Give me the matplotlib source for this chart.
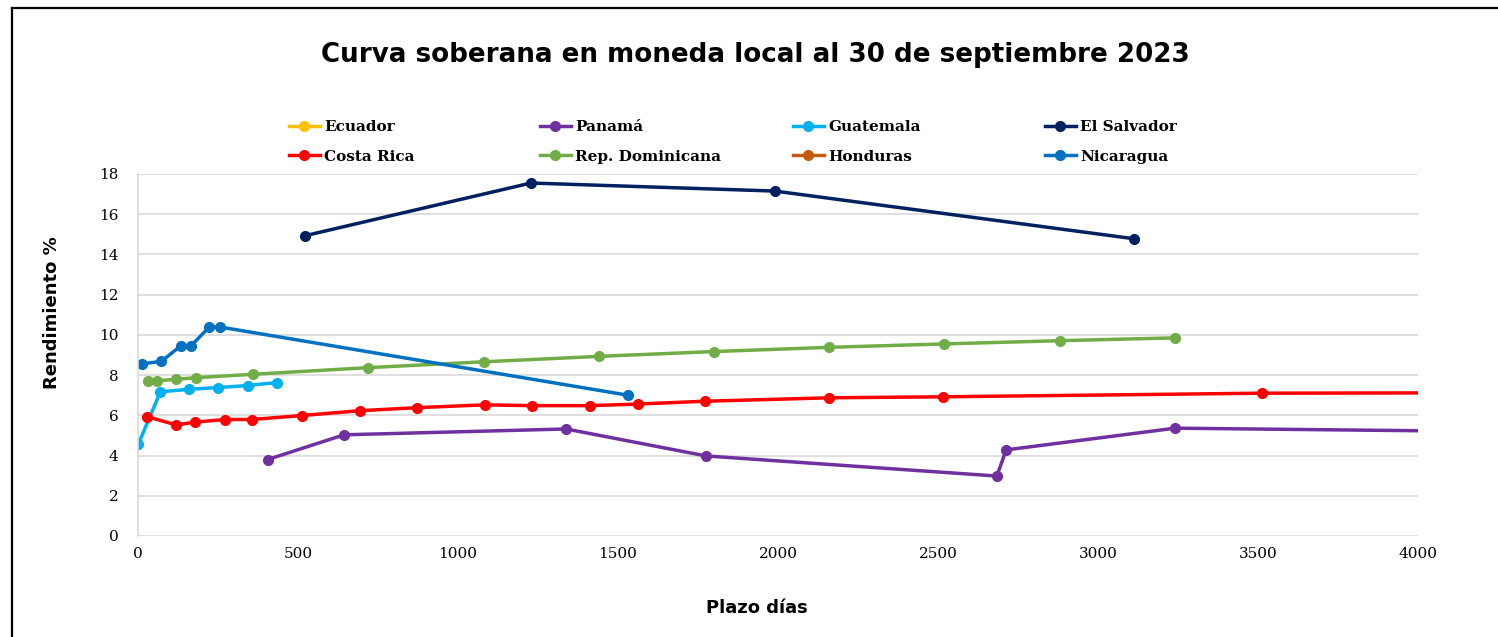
import matplotlib
matplotlib.use("Agg")
import matplotlib.pyplot as plt
from matplotlib.lines import Line2D

# data (plazo in days, rendimiento in %)
ecuador_x = []
ecuador_y = []

panama_x = [405, 644, 1338, 1775, 2684, 2713, 3241, 5400]
panama_y = [3.80, 5.03, 5.32, 3.98, 2.98, 4.28, 5.36, 5.00]

guatemala_x = [1, 70, 158, 250, 343, 434]
guatemala_y = [4.56, 7.17, 7.29, 7.38, 7.48, 7.63]

salvador_x = [522, 1228, 1990, 3112]
salvador_y = [14.93, 17.55, 17.15, 14.78]

costarica_x = [29, 120, 177, 271, 355, 513, 695, 872, 1084, 1231, 1413, 1563, 1772, 2159, 2516, 3513, 5400]
costarica_y = [5.93, 5.52, 5.66, 5.79, 5.79, 5.99, 6.23, 6.38, 6.52, 6.48, 6.48, 6.56, 6.70, 6.87, 6.92, 7.10, 7.15]

dominicana_x = [30, 60, 120, 180, 360, 720, 1080, 1440, 1800, 2160, 2520, 2880, 3240]
dominicana_y = [7.70, 7.72, 7.79, 7.87, 8.04, 8.37, 8.66, 8.93, 9.17, 9.38, 9.55, 9.71, 9.85]

honduras_x = []
honduras_y = []

nicaragua_x = [13, 73, 134, 166, 223, 256, 1531]
nicaragua_y = [8.56, 8.68, 9.46, 9.46, 10.39, 10.39, 7.00]

fig = plt.figure(figsize=(14.98, 6.37), dpi=100)
ax = fig.add_axes([0.0921, 0.1586, 0.8545, 0.5683])

series = [
    ("Ecuador", ecuador_x, ecuador_y, "#FFC000"),
    ("Panamá", panama_x, panama_y, "#7030A0"),
    ("Guatemala", guatemala_x, guatemala_y, "#00B0F0"),
    ("El Salvador", salvador_x, salvador_y, "#002060"),
    ("Costa Rica", costarica_x, costarica_y, "#FF0000"),
    ("Rep. Dominicana", dominicana_x, dominicana_y, "#70AD47"),
    ("Honduras", honduras_x, honduras_y, "#C55A11"),
    ("Nicaragua", nicaragua_x, nicaragua_y, "#0070C0"),
]

handles = {}
for name, xs, ys, col in series:
    ln, = ax.plot(xs, ys, color=col, lw=2.5, marker="o", ms=7, label=name)
    handles[name] = ln

ax.set_xlim(0, 4000)
ax.set_ylim(0, 18)
ax.set_xticks(range(0, 4001, 500))
ax.set_yticks(range(0, 19, 2))
ax.grid(axis="y", color="#D9D9D9", lw=1.2)
ax.set_axisbelow(True)
for s in ["top", "right", "bottom"]:
    ax.spines[s].set_visible(False)
ax.spines["left"].set_color("#D9D9D9")
ax.spines["left"].set_linewidth(1.2)
ax.tick_params(length=0, labelsize=11, pad=8)
for lab in ax.get_xticklabels() + ax.get_yticklabels():
    lab.set_family("DejaVu Serif")
ax.tick_params(axis="y", pad=14)

fig.text(0.504, 0.914, "Curva soberana en moneda local al 30 de septiembre 2023",
         ha="center", va="center", fontsize=18.8, fontweight="bold", family="DejaVu Sans")
fig.text(0.505, 0.045, "Plazo días", ha="center", va="center",
         fontsize=13, fontweight="bold", family="DejaVu Sans")
fig.text(0.035, 0.51, "Rendimiento %", ha="center", va="center", rotation=90,
         fontsize=13, fontweight="bold", family="DejaVu Sans")

# legend laid out in 4 columns, 2 rows
columns = [("Ecuador", "Costa Rica"), ("Panamá", "Rep. Dominicana"),
           ("Guatemala", "Honduras"), ("El Salvador", "Nicaragua")]
col_x = [289, 540, 793, 1045]
for names, cx in zip(columns, col_x):
    leg = fig.legend([handles[n] for n in names], names, loc="center left",
                     bbox_to_anchor=(cx / 1498, 1 - 142 / 637), frameon=False,
                     borderpad=0, borderaxespad=0, handlelength=2.0,
                     handletextpad=0.3, labelspacing=1.0,
                     prop={"family": "DejaVu Serif", "weight": "bold", "size": 11})

# outer frame (top and left edges visible)
fig.add_artist(Line2D([11.5 / 1498, 1], [1 - 7.5 / 637, 1 - 7.5 / 637],
                      color="black", lw=1.6, transform=fig.transFigure))
fig.add_artist(Line2D([11.5 / 1498, 11.5 / 1498], [0, 1 - 7.5 / 637],
                      color="black", lw=1.6, transform=fig.transFigure))

fig.savefig("out.png", dpi=100)
